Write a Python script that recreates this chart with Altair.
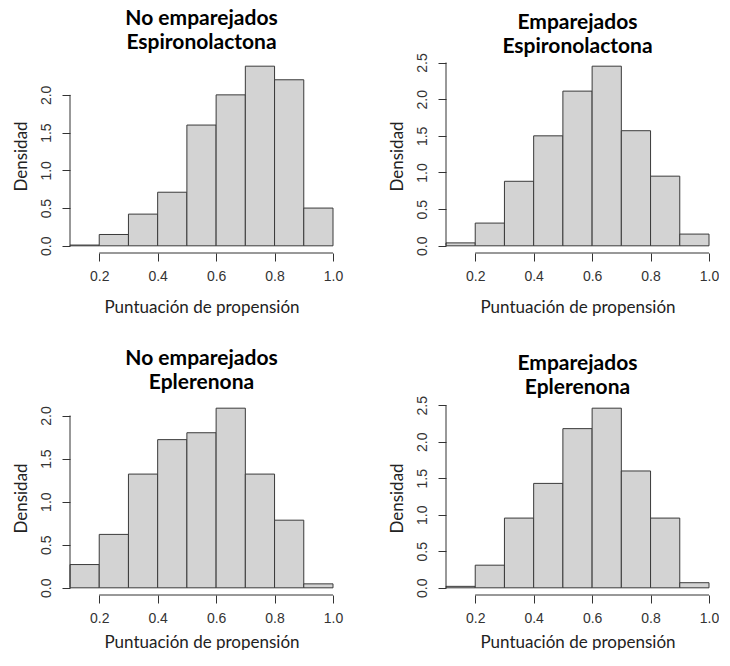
import altair as alt
import pandas as pd

# bin edges (propensity score)
bin_lo = [0.1, 0.2, 0.3, 0.4, 0.5, 0.6, 0.7, 0.8, 0.9]
bin_hi = [0.2, 0.3, 0.4, 0.5, 0.6, 0.7, 0.8, 0.9, 1.0]

# densities
dens_ne_espi = [0.01, 0.15, 0.42, 0.71, 1.60, 2.00, 2.38, 2.20, 0.50]
dens_e_espi = [0.04, 0.31, 0.88, 1.50, 2.11, 2.45, 1.57, 0.95, 0.16]
dens_ne_eple = [0.27, 0.62, 1.32, 1.72, 1.80, 2.085, 1.32, 0.785, 0.046]
dens_e_eple = [0.02, 0.31, 0.955, 1.43, 2.18, 2.46, 1.60, 0.955, 0.07]

titles = [
    ["No emparejados", "Espironolactona"],
    ["Emparejados", "Espironolactona"],
    ["No emparejados", "Eplerenona"],
    ["Emparejados", "Eplerenona"],
]
y_ticks_a = [0.0, 0.5, 1.0, 1.5, 2.0]
y_ticks_b = [0.0, 0.5, 1.0, 1.5, 2.0, 2.5]
x_ticks = [0.2, 0.4, 0.6, 0.8, 1.0]

x_title = "Puntuación de propensión"
y_title = "Densidad"

W, H = 263, 194
AXIS_COL = "#333333"


def panel(dens, title, yticks, title_offset, xtitle_pad):
    ymax = max(dens)
    ydom = [-0.04 * ymax, 1.04 * ymax]
    df = pd.DataFrame({"lo": bin_lo, "hi": bin_hi, "d": dens, "z": [0.0] * len(dens)})
    xs = alt.Scale(domain=[bin_lo[0], bin_hi[-1]], nice=False, zero=False)
    ys = alt.Scale(domain=ydom, nice=False, zero=False)
    xaxis = alt.Axis(values=x_ticks, tickCount=50, format=".1f", title=x_title, domain=False, grid=False,
                     tickSize=8, tickColor=AXIS_COL, labelColor=AXIS_COL, labelFont="Liberation Sans",
                     labelFontSize=14, labelPadding=8, labelFlush=False, labelOverlap=False,
                     titleFont="Lato", titleFontSize=17, titleFontWeight="normal", titleColor="#222",
                     titlePadding=xtitle_pad)
    yaxis = alt.Axis(values=yticks, tickCount=50, format=".1f", title=y_title, domain=False, grid=False,
                     tickSize=8, tickColor=AXIS_COL, labelColor=AXIS_COL, labelFont="Liberation Sans",
                     labelFontSize=14, labelPadding=9, labelFlush=False, labelOverlap=False,
                     labelAngle=-90, labelAlign="center", labelBaseline="bottom",
                     titleFont="Lato", titleFontSize=17, titleFontWeight="normal", titleColor="#222",
                     titlePadding=8.5)
    bars = alt.Chart(df).mark_rect(fill="#d3d3d3", stroke="#3a3a3a", strokeWidth=1).encode(
        x=alt.X("lo:Q", scale=xs, axis=xaxis),
        x2="hi:Q",
        y=alt.Y("d:Q", scale=ys, axis=yaxis),
        y2="z:Q",
    )
    xline_df = pd.DataFrame({"a": [x_ticks[0]], "b": [x_ticks[-1]]})
    xline = alt.Chart(xline_df).mark_rule(color=AXIS_COL, strokeWidth=1).encode(
        x=alt.X("a:Q", scale=xs), x2="b:Q", y=alt.value(H)
    )
    yline_df = pd.DataFrame({"a": [yticks[0]], "b": [yticks[-1]]})
    yline = alt.Chart(yline_df).mark_rule(color=AXIS_COL, strokeWidth=1).encode(
        y=alt.Y("a:Q", scale=ys), y2="b:Q", x=alt.value(0)
    )
    return alt.layer(bars, xline, yline).properties(
        width=W, height=H,
        title=alt.TitleParams(title, font="Lato", fontSize=21, fontWeight="bold", color="black",
                              anchor="middle", lineHeight=24, offset=title_offset),
    )


p1 = panel(dens_ne_espi, titles[0], y_ticks_a, 6, 16)
p2 = panel(dens_e_espi, titles[1], y_ticks_b, -4, 16)
p3 = panel(dens_ne_eple, titles[2], y_ticks_a, 8, 9)
p4 = panel(dens_e_eple, titles[3], y_ticks_b, -2, 9)

chart = alt.vconcat(
    alt.hconcat(p1, p2, spacing=45),
    alt.hconcat(p3, p4, spacing=45),
    spacing=33,
).configure_view(stroke=None).properties(padding={"left": 4, "top": 0, "right": 0, "bottom": 0})

chart.save("out.html", embed_options={"renderer": "svg", "actions": False})
